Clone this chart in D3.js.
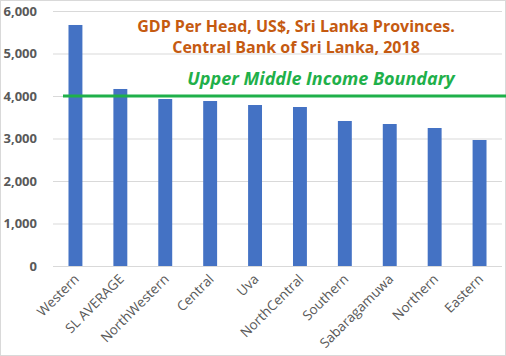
<!DOCTYPE html>
<html><head><meta charset="utf-8">
<script src="https://cdn.jsdelivr.net/npm/d3@7"></script>
<style>body{margin:0;background:#fff}svg{display:block}</style>
</head><body><svg id="c" width="506" height="356"></svg>
<script>
const categories = ["Western","SL AVERAGE","NorthWestern","Central","Uva","NorthCentral","Southern","Sabaragamuwa","Northern","Eastern"];
const gdpPerHead = [5671, 4165, 3929, 3882, 3788, 3741, 3412, 3341, 3247, 2965];
const yTicks = [0,1000,2000,3000,4000,5000,6000];
const boundaryValue = 4000;
const titleLines = ["GDP Per Head, US$, Sri Lanka Provinces.", "Central Bank of Sri Lanka, 2018"];
const boundaryLabel = "Upper Middle Income Boundary";

const svg = d3.select("#c");
const W = 506, H = 356;
const m = {l:53, r:4, t:11, b:90};
const x = d3.scaleBand().domain(categories).range([m.l, W - m.r]).paddingInner(0.69).paddingOuter(0.345);
const y = d3.scaleLinear().domain([0,6000]).range([H - m.b, m.t]);

svg.append("rect").attr("x",0.5).attr("y",0.5).attr("width",W-1).attr("height",H-1)
  .attr("fill","none").attr("stroke","#d9d9d9");

const grid = svg.append("g").attr("transform",`translate(${m.l},0)`)
  .call(d3.axisLeft(y).tickValues(yTicks).tickSize(-(W - m.r - m.l)).tickFormat(""));
grid.select(".domain").remove();
grid.selectAll("line").attr("stroke","#d9d9d9").attr("stroke-width",1);

const yAx = svg.append("g").attr("transform",`translate(37,0)`)
  .call(d3.axisLeft(y).tickValues(yTicks).tickSize(0).tickPadding(0).tickFormat(d3.format(",")));
yAx.select(".domain").remove();
yAx.selectAll("text").attr("font-family","'Open Sans', sans-serif").attr("font-weight","bold")
  .attr("font-size","13px").attr("fill","#595959").attr("text-anchor","end");

svg.append("g").selectAll("rect").data(categories).join("rect")
  .attr("x", d => x(d)).attr("width", x.bandwidth())
  .attr("y", (d,i) => y(gdpPerHead[i])).attr("height", (d,i) => y(0) - y(gdpPerHead[i]))
  .attr("fill","#4472C4");

const xAx = svg.append("g").attr("transform",`translate(0,${H - m.b})`)
  .call(d3.axisBottom(x).tickSize(0).tickPadding(0));
xAx.select(".domain").remove();
xAx.selectAll("text")
  .attr("font-family","'Open Sans', sans-serif").attr("font-size","13.5px").attr("fill","#595959")
  .attr("text-anchor","end").attr("dy",null).attr("y",0)
  .attr("transform", `translate(4.5,14) rotate(-45)`);

svg.append("line").attr("x1",63).attr("x2",W).attr("y1",y(boundaryValue)).attr("y2",y(boundaryValue))
  .attr("stroke","#1FB04A").attr("stroke-width",3);

svg.append("text").attr("x",321).attr("y",85).attr("text-anchor","middle")
  .attr("font-family","'Open Sans', sans-serif").attr("font-weight","bold").attr("font-style","italic")
  .attr("font-size","18px").attr("fill","#1FB04A").text(boundaryLabel);

svg.append("g").selectAll("text").data(titleLines).join("text")
  .attr("x",296).attr("y",(d,i)=>32 + i*21).attr("text-anchor","middle")
  .attr("font-family","'Open Sans', sans-serif").attr("font-weight","bold")
  .attr("font-size","16px").attr("fill","#C55A11").text(d=>d);
</script></body></html>
